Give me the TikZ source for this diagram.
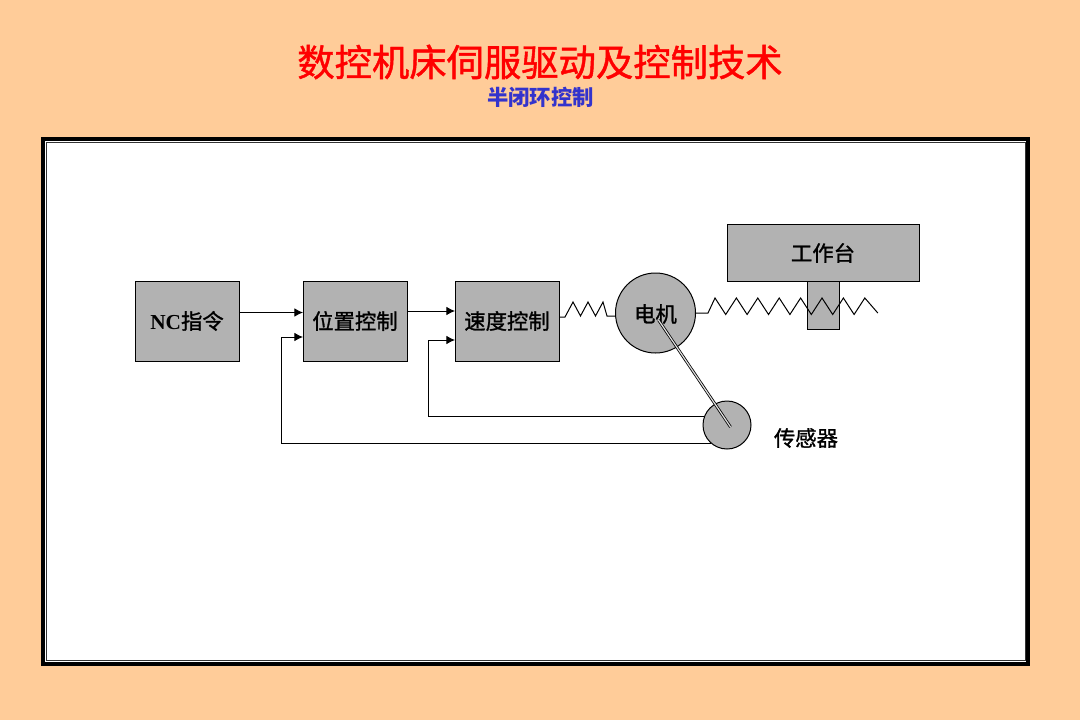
\documentclass[tikz,border=0pt]{standalone}
\usepackage{fontspec}
\setmainfont{Liberation Serif}
\newfontfamily\cjk{Noto Sans CJK SC}
\newfontfamily\cjkmed[FakeBold=1.2]{Noto Sans CJK SC}
\usepackage{xcolor}
\usetikzlibrary{arrows.meta}
\definecolor{pagebg}{HTML}{FFCC99}
\definecolor{partgray}{HTML}{B2B2B2}
\definecolor{subblue}{HTML}{3333CC}

\begin{document}
\begin{tikzpicture}[
  x=0.75pt, y=-0.75pt,
  line width=0.75pt,
  block/.style={draw=black, fill=partgray, minimum width=78pt, minimum height=60pt,
                inner sep=0pt, outer sep=0pt, font=\fontsize{16}{18}\selectfont},
  wheel/.style={draw=black, fill=partgray, circle, inner sep=0pt, outer sep=0pt},
  tag/.style={font=\cjkmed\fontsize{16}{18}\selectfont, inner sep=0pt},
  arr/.style={-{Latex[length=6.5pt,width=6.5pt]}},
  shaft/.style={double=partgray!40, double distance=0.9pt, line width=0.6pt}
]
\useasboundingbox (0,0) rectangle (1080,720);
\fill[pagebg] (0,0) rectangle (1080,720);
% --- frame ---
\node[draw=black, line width=3pt, fill=white, minimum width=738.75pt, minimum height=393.75pt,
      inner sep=0pt] (frame) at (535.5,401.5) {};
\node[draw=black!80, line width=0.75pt, minimum width=734pt, minimum height=388.5pt,
      inner sep=0pt] (inframe) at (536,401.5) {};
% --- titles ---
\node[text=red, font=\cjkmed\fontsize{28}{30}\selectfont, inner sep=0pt] (title) at (540,62)
  {数控机床伺服驱动及控制技术};
\node[text=subblue, font=\cjk\bfseries\fontsize{16}{18}\selectfont, inner sep=0pt] (subtitle) at (540.5,97)
  {半闭环控制};
% --- blocks ---
\node[block] (nc) at (187,321) {\textbf{NC}{\cjkmed 指令}};
\node[block] (pos) at (355,321) {\cjkmed 位置控制};
\node[block] (speed) at (507,321) {\cjkmed 速度控制};
\node[block, minimum width=24pt, minimum height=48pt] (nut) at (823,297) {};
\node[block, minimum width=144pt, minimum height=42pt] (table) at (823,253) {\cjkmed 工作台};
\node[wheel, minimum size=60pt] (motor) at (655.5,313) {};
\node[wheel, minimum size=36pt] (sensor) at (727,425) {};
\node[tag] (senslabel) at (806,438) {传感器};
\node[tag] (motorlabel) at (655.5,314) {电机};
% --- springs ---
\coordinate (s1) at (565,317);
\coordinate (s2) at (708,313);
\coordinate (s3) at (607,316);
\draw (speed.east |- s1) -- (s1) -- ++(8,-15) -- ++(7.5,14) -- ++(7.5,-14) -- ++(7.5,14)
  -- ++(7.5,-14) -- (s3) -- (motor.west |- s3);
\draw (motor.east) -- (s2) -- ++(7,-15) foreach \i in {1,...,7} { -- ++(10.7,16.5) -- ++(10.7,-16.5) }
  -- ++(13,15);
% --- arrows ---
\coordinate (v1) at (428.5,340);
\coordinate (v2) at (281.5,337);
\coordinate (a1) at (239,312.5);
\coordinate (a2) at (407,311);
\draw[arr] (a1) -- (pos.west |- a1);
\draw[arr] (a2) -- (speed.west |- a2);
\draw[arr] (sensor.158) -| (v1) -- (speed.west |- v1);
\draw[arr] (sensor.229) -| (v2) -- (pos.west |- v2);
% --- shaft ---
\coordinate (c1) at (658.5,320);
\coordinate (c2) at (730.5,427);
\draw[shaft] (c1) -- (c2);
\end{tikzpicture}
\end{document}
